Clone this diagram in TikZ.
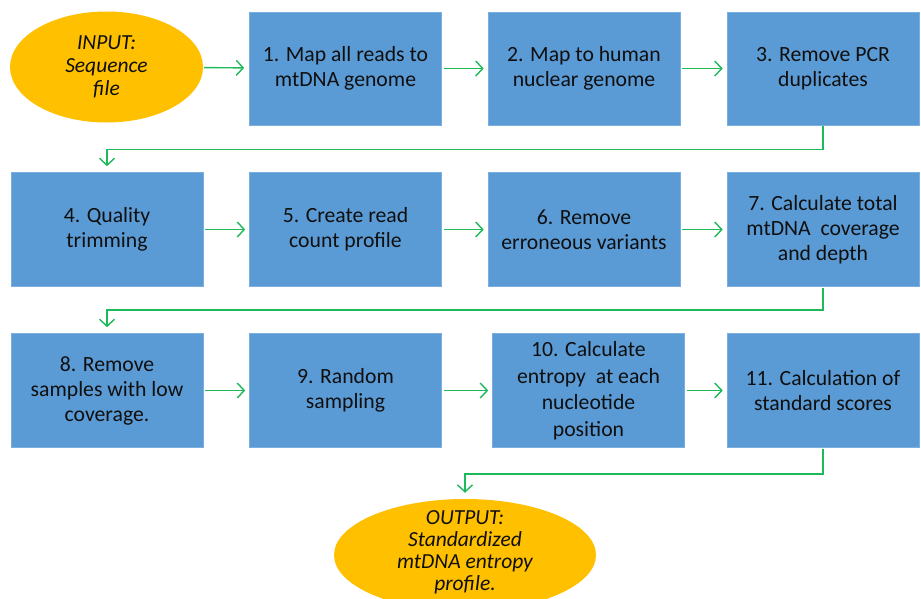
\documentclass[tikz,border=0pt]{standalone}
\usepackage{fontspec}
\setmainfont{Carlito}
\usetikzlibrary{arrows.meta,shapes.geometric}
\definecolor{boxblue}{RGB}{91,155,213}
\definecolor{ovalgold}{RGB}{255,192,0}
\definecolor{conngreen}{RGB}{30,185,90}
\definecolor{txt}{RGB}{15,15,15}
\tikzset{
  stepbox/.style={rectangle, fill=boxblue, draw=boxblue!80!white, line width=0.6pt,
    minimum width=192pt, minimum height=114pt, inner sep=0pt, align=center,
    text=txt, font=\fontsize{21.7}{25}\selectfont},
  oval/.style={ellipse, fill=ovalgold, draw=none, inner sep=0pt},
  ovaltext/.style={align=center, text=txt, inner sep=0pt,
    font=\fontsize{21.5}{23}\selectfont\itshape},
  conn/.style={draw=conngreen, line width=1.4pt,
    -{Straight Barb[length=7pt,width=15pt,line width=1.4pt]}}
}
\begin{document}
\begin{tikzpicture}[x=1pt,y=-1pt]
\useasboundingbox (0,0) rectangle (921,598);
\clip (0,0) rectangle (921,598);
\fill[white] (0,0) rectangle (921,598);
% input
\node[oval, minimum width=193pt, minimum height=111pt] (in) at (106.5,67) {};
\node[ovaltext] (intext) at (106.5,67) {INPUT:\\Sequence\\file};
% row 1
\node[stepbox, minimum height=113pt] (b1) at (345.5,68.5) {1. Map all reads to\\mtDNA genome};
\node[stepbox, minimum height=113pt] (b2) at (584,68.5) {2. Map to human\\nuclear genome};
\node[stepbox, minimum height=113pt] (b3) at (823,68.5) {3. Remove PCR\\duplicates};
% row 2
\node[stepbox] (b4) at (107,229.5) {4. Quality\\trimming};
\node[stepbox] (b5) at (345.5,229.5) {5. Create read\\count profile};
\node[stepbox] (b6) at (584,229.5) {6. Remove\\erroneous variants};
\node[stepbox] (b7) at (823,229.5) {7. Calculate total\\mtDNA~ coverage\\and depth};
% row 3
\node[stepbox] (b8) at (107,390.5) {8. Remove\\samples with low\\coverage.};
\node[stepbox] (b9) at (345.5,390.5) {9. Random\\sampling};
\node[stepbox, font=\fontsize{21.7}{26.5}\selectfont] (b10) at (588.5,390.5) {10. Calculate\\entropy~ at each\\nucleotide\\position};
\node[stepbox] (b11) at (823,390.5) {11. Calculation of\\standard scores};
% output
\node[oval, minimum width=262pt, minimum height=112pt] (out) at (465,555) {};
\node[ovaltext, font=\fontsize{21.5}{22}\selectfont\itshape] (outtext) at (465,552) {OUTPUT:\\Standardized\\mtDNA entropy\\profile.};
% connectors
\draw[conn, shorten <=1pt, shorten >=5pt] (in) -- (b1);
\draw[conn, shorten <=2pt, shorten >=4pt] (b1) -- (b2);
\draw[conn, shorten <=2pt, shorten >=4pt] (b2) -- (b3);
\draw[conn, shorten <=2pt, shorten >=4pt] (b4) -- (b5);
\draw[conn, shorten <=2pt, shorten >=4pt] (b5) -- (b6);
\draw[conn, shorten <=2pt, shorten >=4pt] (b6) -- (b7);
\draw[conn, shorten <=2pt, shorten >=4pt] (b8) -- (b9);
\draw[conn, shorten <=2pt, shorten >=4pt] (b9) -- (b10);
\draw[conn, shorten <=2pt, shorten >=4pt] (b10) -- (b11);
\draw[conn, shorten <=1pt, shorten >=6pt] (b3.south) -- ++(0,24) -| (b4.north);
\draw[conn, shorten <=1pt, shorten >=6pt] (b7.south) -- ++(0,23) -| (b8.north);
\draw[conn, shorten <=1pt, shorten >=6pt] (b11.south) -- ++(0,26) -| (out.north);
\end{tikzpicture}
\end{document}
